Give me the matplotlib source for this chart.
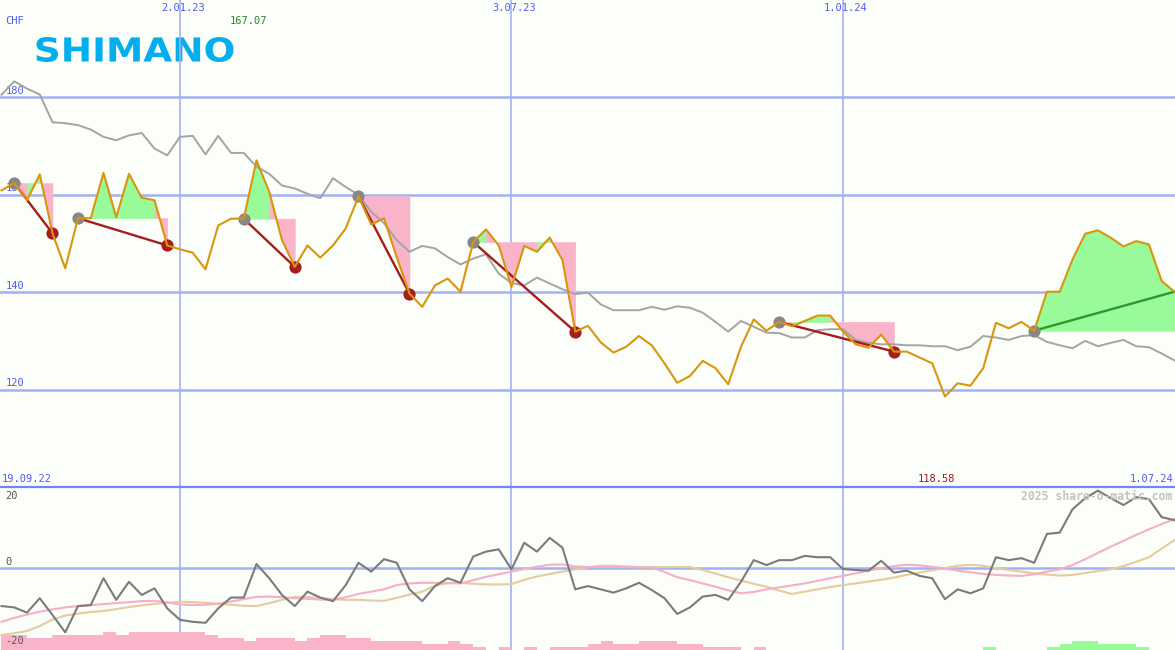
import matplotlib
matplotlib.use("Agg")
import matplotlib.pyplot as plt
import matplotlib.dates as mdates
from matplotlib.lines import Line2D
from matplotlib.textpath import TextPath
from matplotlib.patches import PathPatch
from matplotlib.font_manager import FontProperties
from matplotlib.transforms import Affine2D
import numpy as np
import pandas as pd

# ---------------- data ----------------
start_date = "2022-09-26"
n_weeks = 93
start_label = "19.09.22"
end_label = "1.07.24"
title = "SHIMANO"
currency = "CHF"

price = [160.9, 162.4, 158.9, 164.2, 152.1, 144.9, 155.2, 155.2, 164.5, 155.4,
         164.3, 159.4, 158.9, 149.6, 148.8, 148.1, 144.7, 153.7, 155.1, 155.1,
         167.07, 160.6, 150.7, 145.2, 149.6, 147.1, 149.6, 153.1, 159.7, 153.9,
         155.2, 147.2, 139.7, 137.0, 141.4, 142.8, 140.1, 150.3, 152.9, 149.6,
         141.1, 149.5, 148.3, 151.2, 146.6, 131.9, 133.1, 129.7, 127.6, 128.8,
         131.0, 129.1, 125.4, 121.4, 122.8, 125.9, 124.4, 121.1, 128.8, 134.4,
         132.1, 133.9, 133.0, 134.1, 135.2, 135.2, 131.9, 129.3, 128.6, 131.3,
         127.8, 127.8, 126.6, 125.4, 118.58, 121.3, 120.8, 124.4, 133.7, 132.6,
         133.9, 132.1, 140.1, 140.1, 146.7, 152.0, 152.7, 151.2, 149.4, 150.5,
         149.8, 142.3, 140.1]

benchmark = [180.55, 183.3, 181.8, 180.6, 174.9, 174.7, 174.3, 173.4, 171.9, 171.2,
             172.2, 172.7, 169.5, 168.1, 171.9, 172.1, 168.3, 172.1, 168.6, 168.6,
             165.8, 164.3, 161.9, 161.3, 160.2, 159.3, 163.4, 161.6, 160.0, 156.5,
             154.2, 150.7, 148.3, 149.5, 149.0, 147.2, 145.7, 146.9, 147.8, 143.8,
             141.9, 141.4, 143.0, 141.8, 140.6, 139.6, 139.9, 137.5, 136.3, 136.3,
             136.3, 137.0, 136.4, 137.1, 136.8, 135.8, 133.9, 131.9, 134.1, 132.9,
             131.7, 131.6, 130.7, 130.7, 132.2, 132.4, 132.4, 130.2, 129.6, 129.3,
             129.3, 129.1, 129.1, 128.9, 128.9, 128.1, 128.8, 131.0, 130.7, 130.2,
             131.0, 131.2, 129.8, 129.1, 128.5, 130.0, 128.9, 129.6, 130.2, 128.9,
             128.7, 127.4, 126.0]

oscillator = [-11.7, -12.1, -13.7, -9.3, -14.4, -19.7, -11.7, -11.4, -3.2, -9.8,
              -4.3, -8.3, -6.3, -12.4, -15.9, -16.5, -16.8, -12.4, -9.1, -9.1,
              1.1, -3.2, -8.3, -11.7, -7.3, -9.1, -10.2, -5.3, 1.5, -1.2,
              2.6, 1.5, -6.6, -10.2, -5.6, -3.2, -4.6, 3.4, 4.9, 5.6,
              -0.5, 7.6, 4.9, 9.1, 6.1, -6.6, -5.6, -6.6, -7.6, -6.3,
              -4.6, -6.8, -9.3, -14.1, -12.1, -8.8, -8.3, -9.8, -4.3, 2.3,
              0.8, 2.3, 2.3, 3.6, 3.2, 3.2, -0.4, -0.7, -0.9, 2.1,
              -1.5, -0.9, -2.5, -3.2, -9.6, -6.6, -7.8, -6.3, 3.2, 2.3,
              2.9, 1.5, 10.3, 10.7, 17.8, 21.2, 23.5, 21.2, 19.1, 21.5,
              20.9, 15.4, 14.5]

osc_fast = [-16.5, -15.3, -14.3, -13.4, -12.7, -12.1, -11.7, -11.4, -11.1, -10.8,
            -10.5, -10.2, -10.1, -10.6, -11.2, -11.4, -11.3, -11.0, -10.3, -9.6,
            -8.9, -8.8, -9.0, -9.3, -9.5, -9.7, -9.8, -9.0, -8.0, -7.3,
            -6.6, -5.3, -4.8, -4.6, -4.6, -4.7, -4.8, -3.8, -2.8, -2.0,
            -1.2, -0.4, 0.3, 0.9, 1.0, 0.4, 0.2, 0.3, 0.3, 0.2,
            0.1, 0.1, -1.3, -2.9, -3.8, -4.8, -5.8, -6.9, -7.8, -7.4,
            -6.6, -6.0, -5.4, -4.8, -4.0, -3.2, -2.5, -1.7, -0.9, -0.2,
            0.5, 0.9, 0.7, 0.3, -0.3, -0.9, -1.4, -1.9, -2.2, -2.4,
            -2.5, -2.0, -1.2, -0.5, 0.8, 2.6, 4.5, 6.4, 8.2, 10.0,
            11.7, 13.3, 14.8]

osc_slow = [-20.5, -20.0, -19.3, -17.8, -15.8, -14.6, -14.0, -13.5, -13.2, -12.6,
            -12.0, -11.5, -11.0, -10.7, -10.4, -10.5, -10.7, -11.0, -11.3, -11.6,
            -11.7, -10.8, -9.8, -8.9, -8.9, -9.3, -9.6, -9.8, -9.8, -10.0,
            -10.1, -9.2, -8.2, -7.3, -5.5, -4.7, -4.6, -4.9, -5.1, -5.1,
            -5.0, -3.7, -2.7, -1.9, -1.2, -0.5, 0.1, 0.6, 0.6, 0.4,
            0.2, 0.2, 0.2, 0.2, 0.2, -0.7, -1.8, -2.9, -3.9, -4.9,
            -5.8, -7.0, -8.0, -7.3, -6.6, -5.9, -5.3, -4.8, -4.2, -3.7,
            -3.0, -2.2, -1.5, -0.8, -0.1, 0.6, 0.9, 0.6, -0.2, -0.7,
            -1.2, -1.7, -2.1, -2.4, -2.2, -1.6, -1.0, -0.5, 0.5, 1.8,
            3.2, 5.8, 8.4]

# histogram levels: negative = pink, positive = green
hist_levels = [-5, -5, -4, -4, -5, -5, -5, -5, -6, -5,
               -6, -6, -6, -6, -6, -6, -5, -4, -4, -3,
               -4, -4, -4, -3, -4, -5, -5, -4, -4, -3,
               -3, -3, -3, -2, -2, -3, -2, -1, 0, -1,
               0, -1, 0, -1, -1, -1, -2, -3, -2, -2,
               -3, -3, -3, -2, -2, -1, -1, -1, 0, -1,
               0, 0, 0, 0, 0, 0, 0, 0, 0, 0,
               0, 0, 0, 0, 0, 0, 0, 1, 0, 0,
               0, 0, 1, 2, 3, 3, 2, 2, 2, 1,
               0, 0, 0]

# trade signals (week index of entry / exit), last one still open
sig_entry = [1, 6, 19, 28, 37, 61, 81]
sig_exit = [4, 13, 23, 32, 45, 70, 92]
sig_open = [False, False, False, False, False, False, True]

y_ticks_top = [180, 160, 140, 120]
vline_dates = ["2023-01-02", "2023-07-03", "2024-01-01"]
vline_labels = ["2.01.23", "3.07.23", "1.01.24"]
bottom_ticks = ["20", "0", "-20"]
watermark = "2025 share-o-matic.com"

# ---------------- style ----------------
BG = "#fcfefa"
GRID = "#a3b1f2"
LBL = "#4f5cf0"
GOLD = "#d9960c"
GREYL = "#a4a4a4"
FILL_G = "#98fa98"
FILL_P = "#fab4ca"
RED = "#a51d1d"
MONO = "DejaVu Sans Mono"

W, H = 1175, 650
SPLIT = 487  # pixel row of the panel separator

fig = plt.figure(figsize=(W / 100, H / 100), dpi=100)
fig.patch.set_facecolor(BG)
ax = fig.add_axes([0, (H - SPLIT) / H, 1, SPLIT / H])
ax2 = fig.add_axes([0, 0, 1, (H - SPLIT) / H])
for a in (ax, ax2):
    a.set_facecolor("none")
    for s in a.spines.values():
        s.set_visible(False)
    a.set_xticks([])
    a.set_yticks([])

# logo (stretched bold text path, drawn behind the axes content)
tp = TextPath((0, 0), title, size=100,
              prop=FontProperties(family="DejaVu Sans", weight="bold"))
bb = tp.get_extents()
lx0, lx1, ly0, ly1 = 36.5, 233.5, 37.0, 62.0  # pixel box
tr = (Affine2D().translate(-bb.x0, -bb.y0)
      .scale((lx1 - lx0) / bb.width / W, (ly1 - ly0) / bb.height / H)
      .translate(lx0 / W, 1 - ly1 / H) + fig.transFigure)
fig.add_artist(PathPatch(tp, transform=tr, facecolor="#03aeec", edgecolor="none",
                         zorder=-1))

dates = pd.date_range(start_date, periods=n_weeks, freq="7D")
x = mdates.date2num(dates)
price = np.array(price)
xlim = (x[0] - 0.82, x[-1] + 0.3)

# ---------- top panel ----------
ax.set_xlim(*xlim)
ax.set_ylim(100, 200)
for yv in y_ticks_top:
    ax.axhline(yv, color=GRID, lw=1.8, zorder=0)
    ax.annotate(str(yv), xy=(0, yv), xycoords=("axes fraction", "data"),
                xytext=(4, 1.0), textcoords="offset points", ha="left", va="bottom",
                fontsize=7.5, family=MONO, color=LBL, zorder=0.5)
vx = mdates.date2num(pd.to_datetime(vline_dates))
for v, lab in zip(vx, vline_labels):
    ax.axvline(v, color=GRID, lw=1.2, zorder=0)
    ax2.axvline(v, color=GRID, lw=1.2, zorder=0)
    ax.annotate(lab, xy=(v, 1), xycoords=("data", "axes fraction"),
                xytext=(2, -6), textcoords="offset points", ha="center", va="center",
                fontsize=7.5, family=MONO, color=LBL)

# signal fills
for s, e in zip(sig_entry, sig_exit):
    level = price[s]
    for i in range(s, e):
        col = FILL_G if price[i + 1] > level else FILL_P
        ax.fill_between(x[i:i + 2], level, price[i:i + 2], color=col,
                        lw=0.4, edgecolor=col, zorder=1)

ax.plot(x, benchmark, color=GREYL, lw=1.4, zorder=2)

for s, e, op in zip(sig_entry, sig_exit, sig_open):
    ax.plot([x[s], x[e]], [price[s], price[e]], color="#2a9a2a" if op else RED,
            lw=1.7, zorder=3)
    ax.plot(x[s], price[s], "o", ms=8.8, color="#878787", mec="none", zorder=4)
    if not op:
        ax.plot(x[e], price[e], "o", ms=8.8, color=RED, mec="none", zorder=4)

ax.plot(x, price, color=GOLD, lw=1.5, zorder=5)

imax, imin = int(np.argmax(price)), int(np.argmin(price))
ax.annotate(f"{price[imax]:.2f}", xy=(x[imax], 1), xycoords=("data", "axes fraction"),
            xytext=(-6, -15), textcoords="offset points", ha="center", va="center",
            fontsize=7.5, family=MONO, color="#2a8a2a")
ax.annotate(f"{price[imin]:.2f}", xy=(x[imin], 0), xycoords=("data", "axes fraction"),
            xytext=(-6, 6), textcoords="offset points", ha="center", va="center",
            fontsize=7.5, family=MONO, color="#9c1c1c")

fig.text(5 / W, 1 - 21 / H, currency, fontsize=7.5, family=MONO, color=LBL, va="center")
fig.text(2 / W, 1 - 479 / H, start_label, fontsize=7.5, family=MONO, color=LBL,
         va="center")
fig.text(1173 / W, 1 - 479 / H, end_label, fontsize=7.5, family=MONO, color=LBL,
         va="center", ha="right")

# ---------- bottom panel ----------
ymin2, ymax2 = -25.09, 24.6
ax2.set_xlim(*xlim)
ax2.set_ylim(ymin2, ymax2)
ax2.axhline(0, color=GRID, lw=1.8, zorder=0)
hl = np.array(hist_levels, dtype=float)
bar_step = 0.915
hcol = [FILL_G if v > 0 else FILL_P for v in hl]
ax2.bar(x, np.abs(hl) * bar_step, bottom=ymin2, width=7, align="edge",
        color=hcol, lw=0, zorder=1)
ax2.plot(x, osc_slow, color="#e5cc9c", lw=1.5, zorder=2)
ax2.plot(x, osc_fast, color="#f7aec6", lw=1.5, zorder=3)
ax2.plot(x, oscillator, color="#7b7b7b", lw=1.5, zorder=4)

for lab, py in zip(bottom_ticks, [496, 562, 641]):
    fig.text(5 / W, 1 - py / H, lab, fontsize=7.5, family=MONO, color="#555555",
             va="center")
fig.text(1172 / W, 1 - 496 / H, watermark, fontsize=8.3, family=MONO,
         fontweight="bold", color="#c4c4c4", va="center", ha="right", zorder=1)

fig.add_artist(Line2D([0, 1], [1 - SPLIT / H, 1 - SPLIT / H], color="#7484f2", lw=1.6))

fig.savefig("out.png", dpi=100, facecolor=BG)
